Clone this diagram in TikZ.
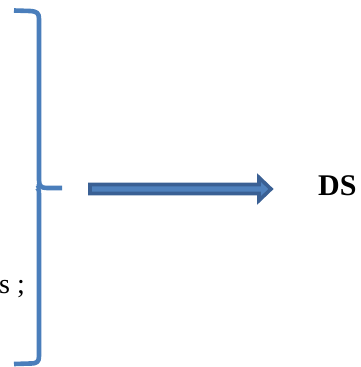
\documentclass[tikz,border=0pt]{standalone}
\usepackage{fontspec}
\setmainfont{Liberation Serif}
\definecolor{braceblue}{HTML}{4A7EBB}
\definecolor{arrowfill}{HTML}{4F81BD}
\definecolor{arrowline}{HTML}{3A6094}
\begin{document}
\begin{tikzpicture}[x=1pt,y=-1pt,
  bracestyle/.style={draw=braceblue,line width=4.6pt,line cap=butt,line join=round},
  blockarrow/.style={fill=arrowfill,draw=arrowline,line width=3.6pt,line join=miter},
  lbl/.style={inner sep=0pt,anchor=base west}]
\useasboundingbox (0,0) rectangle (360,367);
% brace
\path[bracestyle] (14,10.5) -- (30,11) .. controls (37,11.5) and (39,13) .. (39,19)
  -- (39,180) .. controls (39,186) and (41,188) .. (47,188) -- (62,188);
\path[bracestyle] (39,184) .. controls (39,188) and (38,188) .. (37,188.5);
\path[bracestyle] (37,188) .. controls (38,188.5) and (39,189) .. (39,194)
  -- (39,356) .. controls (39,362) and (37,363.5) .. (30,363.5) -- (14,364);
% block arrow
\path[blockarrow] (90,184.5) -- (259,184.5) -- (259,177.5) -- (271,189) -- (259,200.5)
  -- (259,193.5) -- (90,193.5) -- cycle;
% texts
\node[lbl,font=\bfseries\fontsize{30}{32}\selectfont] (ds) at (318,195) {DS};
\node[lbl,font=\fontsize{28}{30}\selectfont] (s) at (-1,293) {s ;};
\end{tikzpicture}
\end{document}
